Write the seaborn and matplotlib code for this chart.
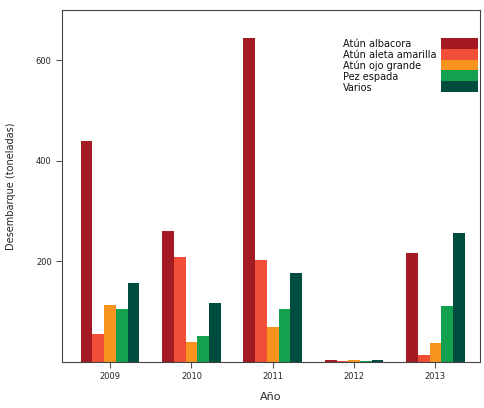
import pandas as pd
import matplotlib.pyplot as plt
import seaborn as sns

years = ["2009", "2010", "2011", "2012", "2013"]
species = ["Atún albacora", "Atún aleta amarilla", "Atún ojo grande", "Pez espada", "Varios"]
albacora = [440, 261, 644, 4, 216]
aleta_amarilla = [56, 208, 202, 2, 14]
ojo_grande = [113, 40, 69, 3, 38]
pez_espada = [105, 51, 105, 2, 111]
varios = [158, 117, 176, 3, 256]
colors = ["#A31A22", "#F04E37", "#F7931E", "#13A150", "#004D40"]

series = [albacora, aleta_amarilla, ojo_grande, pez_espada, varios]
rows = []
for sp, vals in zip(species, series):
    for y, v in zip(years, vals):
        rows.append({"Año": y, "Especie": sp, "Toneladas": v})
df = pd.DataFrame(rows)

sns.set_style("white")
fig, ax = plt.subplots(figsize=(4.85, 4.08), dpi=100)
sns.barplot(data=df, x="Año", y="Toneladas", hue="Especie", palette=colors,
            width=0.72, saturation=1, linewidth=0, ax=ax)

ax.set_xlim(-0.59, 4.55)
ax.set_ylim(0, 700)
ax.set_yticks([200, 400, 600])
ax.tick_params(axis="both", labelsize=6, length=4, color="#555555", left=True, bottom=True)
ax.set_xlabel("Año", fontsize=8, labelpad=8)
ax.set_ylabel("Desembarque (toneladas)", fontsize=7, labelpad=14)
for s in ax.spines.values():
    s.set_color("#444444")
    s.set_linewidth(0.8)

# legend: colour boxes stacked on the right, labels left-aligned beside them
handles, labels = ax.get_legend_handles_labels()
ax.legend(handles, [""] * len(handles), loc="upper right", bbox_to_anchor=(0.995, 0.92),
          frameon=False, fontsize=6, labelspacing=0, borderpad=0, borderaxespad=0,
          handlelength=4.4, handleheight=1.6, handletextpad=0)
row_y = [0.903, 0.872, 0.841, 0.810, 0.778]
for lab, yy in zip(species, row_y):
    ax.text(0.672, yy, lab, transform=ax.transAxes, fontsize=7, va="center", ha="left",
            color="#111111")

plt.subplots_adjust(left=0.128, right=0.99, top=0.975, bottom=0.113)
plt.savefig("out.png", dpi=100)
plt.close()
